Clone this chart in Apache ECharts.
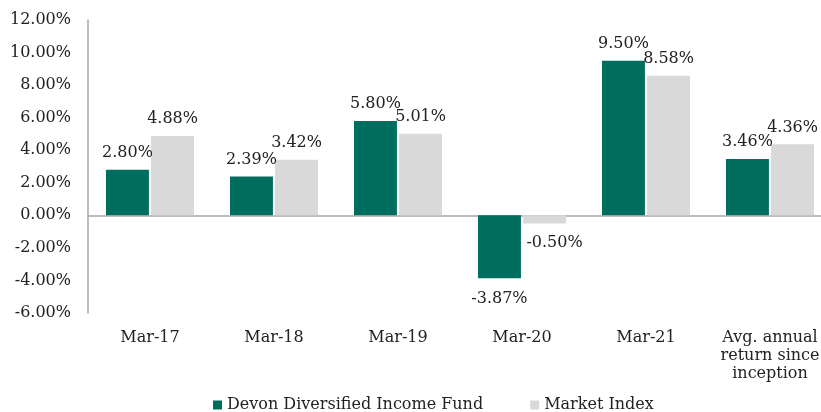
<!DOCTYPE html>
<html><head><meta charset="utf-8">
<script src="https://cdn.jsdelivr.net/npm/echarts@6/dist/echarts.min.js"></script>
<style>html,body{margin:0;padding:0;background:#fff}#c{width:821px;height:412px}</style>
</head><body><div id="c"></div>
<script>
const categories = ['Mar-17','Mar-18','Mar-19','Mar-20','Mar-21','Avg. annual\nreturn since\ninception'];
const fundValues = [2.80, 2.39, 5.80, -3.87, 9.50, 3.46];
const indexValues = [4.88, 3.42, 5.01, -0.50, 8.58, 4.36];
const seriesNames = ['Devon Diversified Income Fund','Market Index'];
const FONT = 'DejaVu Serif';
const FS = 16;
const fmt = v => v.toFixed(2) + '%';
function labelled(vals, negOffset){
  return vals.map(v => v < 0 ? {value:v, label:{position:'bottom', offset:negOffset}} : v);
}
const chart = echarts.init(document.getElementById('c'));
chart.setOption({
  animation:false,
  textStyle:{fontFamily:FONT},
  grid:{left:88, width:744, top:20, height:293, outerBoundsMode:'none', containLabel:false},
  legend:{top:397, left:213, padding:0, itemWidth:9, itemHeight:9, itemGap:47,
    icon:'rect', textStyle:{fontFamily:FONT, fontSize:FS, color:'#222'}},
  xAxis:[
    {type:'category', data:categories, axisLine:{onZero:true, lineStyle:{color:'#A6A6A6', width:1.5}},
     axisTick:{show:false}, axisLabel:{show:false}},
    {type:'category', data:categories, position:'bottom', axisLine:{show:false, onZero:false},
     axisTick:{show:false}, axisLabel:{interval:0, fontFamily:FONT, fontSize:FS, color:'#222', margin:16, lineHeight:18}}
  ],
  yAxis:{type:'value', min:-6, max:12, interval:2, splitLine:{show:false},
    axisLine:{show:true, lineStyle:{color:'#A6A6A6', width:1.5}},
    axisLabel:{formatter:v=>fmt(v), fontFamily:FONT, fontSize:FS, color:'#222', margin:17}},
  series:[
    {name:seriesNames[0], type:'bar', data:labelled(fundValues,[0,4]), barGap:'5%', barCategoryGap:'29%',
     itemStyle:{color:'#006E5E'},
     label:{show:true, position:'top', distance:9, formatter:p=>fmt(p.value), fontFamily:FONT, fontSize:FS, color:'#222'}},
    {name:seriesNames[1], type:'bar', data:labelled(indexValues,[10,2]),
     itemStyle:{color:'#D9D9D9'},
     label:{show:true, position:'top', distance:9, formatter:p=>fmt(p.value), fontFamily:FONT, fontSize:FS, color:'#222'}}
  ]
});
</script></body></html>
